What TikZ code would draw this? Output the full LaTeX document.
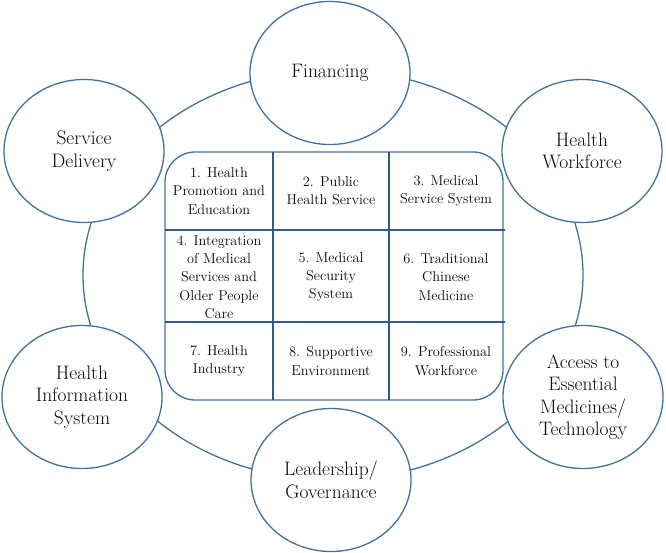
\documentclass[tikz,border=0pt]{standalone}
\usetikzlibrary{shapes.geometric}
\definecolor{ringblue}{RGB}{65,113,156}
\definecolor{gridblue}{RGB}{50,90,135}
\definecolor{txt}{RGB}{10,10,10}
\begin{document}
\begin{tikzpicture}[x=1pt,y=-1pt,
  pillar/.style={ellipse, draw=ringblue, line width=1.3pt, fill=white,
    minimum width=160pt, minimum height=143pt, inner sep=0pt, align=center,
    text=txt, font=\fontsize{19.5}{22.5}\selectfont},
  cell/.style={align=center, inner sep=0pt, text=txt,
    font=\fontsize{14.3}{18.3}\selectfont},
  ring/.style={draw=ringblue, line width=1.3pt},
  gridln/.style={draw=gridblue, line width=1.8pt}]
\useasboundingbox (0,0) rectangle (666,553);
% ring
\draw[ring] (333,275) ellipse (250pt and 205pt);
% pillars
\node[pillar] (fin) at (330,73) {Financing};
\node[pillar] (sd) at (84,151) {Service\\Delivery};
\node[pillar] (hw) at (582,151) {Health\\Workforce};
\node[pillar] (his) at (82,397) {Health\\Information\\System};
\node[pillar] (acc) at (583,397) {Access to\\Essential\\Medicines/\\Technology};
\node[pillar] (lead) at (331,480) {Leadership/\\Governance};
% central grid
\draw[ring, fill=white, rounded corners=30pt] (165,152) rectangle (503,400);
\draw[gridln] (273,152) -- (273,400);
\draw[gridln] (389,152) -- (389,400);
\draw[gridln] (165,230) -- (505,230);
\draw[gridln] (165,322) -- (505,322);
\node[cell] (c1) at (219,191) {1. Health\\Promotion and\\Education};
\node[cell] (c2) at (331,191) {2. Public\\Health Service};
\node[cell] (c3) at (446,191) {3. Medical\\Service System};
\node[cell] (c4) at (219,277) {4. Integration\\of Medical\\Services and\\Older People\\Care};
\node[cell] (c5) at (331,277) {5. Medical\\Security\\System};
\node[cell] (c6) at (446,277) {6. Traditional\\Chinese\\Medicine};
\node[cell] (c7) at (219,361) {7. Health\\Industry};
\node[cell] (c8) at (331,361) {8. Supportive\\Environment};
\node[cell] (c9) at (446,361) {9. Professional\\Workforce};
\end{tikzpicture}
\end{document}
